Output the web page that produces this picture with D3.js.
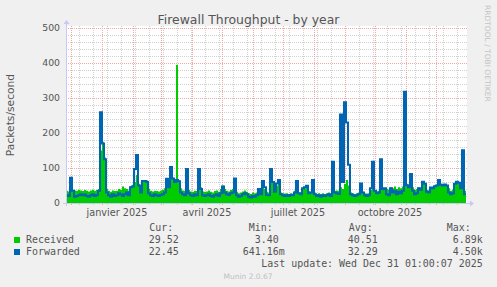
<!DOCTYPE html>
<html lang="fr">
<head>
<meta charset="UTF-8">
<script src="https://d3js.org/d3.v7.min.js"></script>
<style>
  html, body { margin: 0; padding: 0; background: #f0f0f0; overflow: hidden; }
  svg { display: block; }
  text { font-family: "DejaVu Sans", sans-serif; }
  .mono { font-family: "DejaVu Sans Mono", monospace; font-size: 9.95px; fill: #555; }
</style>
</head>
<body>
<svg id="chart" width="497" height="287"></svg>
<script>
// one sample every two days, starting 26 Nov 2024
const start = new Date(2024, 10, 26, 1);
const end = new Date(2025, 11, 31, 1);

const received = [
  35, 33, 40, 38, 36, 35, 38, 36, 34, 37,
  35, 33, 36, 38, 35, 37, 40, 150, 175, 130,
  40, 35, 32, 36, 34, 35, 40, 38, 47, 42,
  40, 36, 48, 52, 60, 80, 55, 42, 65, 66,
  65, 40, 35, 33, 35, 34, 33, 35, 38, 42,
  70, 55, 90, 72, 62, 394, 65, 42, 36, 35,
  95, 38, 33, 32, 35, 34, 95, 45, 33, 32,
  33, 36, 32, 30, 34, 36, 32, 40, 50, 40,
  35, 33, 37, 40, 60, 32, 28, 30, 33, 36,
  32, 28, 26, 30, 28, 30, 40, 32, 45, 40,
  32, 30, 100, 60, 35, 50, 60, 30, 28, 27,
  28, 26, 28, 27, 35, 45, 30, 30, 40, 42,
  45, 33, 32, 55, 30, 26, 28, 25, 28, 26,
  28, 30, 27, 60, 35, 36, 35, 45, 40, 55,
  66, 50, 30, 28, 26, 28, 30, 40, 32, 28,
  27, 28, 38, 50, 35, 33, 35, 45, 40, 42,
  40, 38, 45, 42, 47, 40, 45, 42, 47, 60,
  55, 50, 65, 45, 38, 40, 45, 42, 62, 58,
  38, 36, 46, 44, 50, 52, 68, 55, 50, 52,
  50, 42, 35, 38, 55, 62, 58, 45, 60, 35
];

const forwarded = [
  22, 20, 72, 35, 18, 20, 22, 25, 22, 24,
  20, 18, 22, 25, 20, 23, 35, 259, 170, 125,
  30, 22, 18, 25, 20, 22, 28, 24, 20, 25,
  30, 22, 45, 47, 97, 137, 50, 30, 63, 63,
  60, 28, 22, 20, 25, 22, 20, 23, 25, 30,
  69, 45, 103, 70, 60, 66, 62, 30, 25, 22,
  97, 28, 22, 20, 25, 22, 97, 40, 22, 20,
  22, 25, 20, 18, 22, 25, 20, 28, 47, 30,
  25, 23, 28, 30, 70, 22, 18, 20, 25, 28,
  25, 18, 16, 20, 18, 22, 40, 25, 63, 45,
  23, 22, 97, 60, 32, 56, 66, 25, 22, 20,
  22, 20, 23, 22, 30, 63, 28, 25, 42, 45,
  49, 28, 30, 66, 25, 20, 22, 18, 22, 20,
  22, 25, 20, 118, 30, 28, 26, 253, 60, 288,
  230, 109, 25, 22, 20, 22, 25, 56, 30, 22,
  20, 22, 42, 118, 35, 28, 30, 125, 40, 42,
  25, 22, 42, 30, 35, 25, 32, 28, 35, 318,
  51, 45, 83, 35, 25, 28, 42, 38, 61, 55,
  32, 30, 44, 42, 48, 50, 66, 52, 50, 53,
  50, 30, 25, 28, 55, 61, 58, 42, 151, 25
];

const yTicks = [0, 100, 200, 300, 400, 500];
const labelDates = [new Date(2025, 0, 16), new Date(2025, 3, 16), new Date(2025, 6, 16), new Date(2025, 9, 16)];
const labelTexts = ["janvier 2025", "avril 2025", "juillet 2025", "octobre 2025"];

const seriesNames = ["Received", "Forwarded"];
const seriesColors = ["#00cc00", "#0066b3"];
const curValues = ["29.52", "22.45"];
const minValues = ["3.40", "641.16m"];
const avgValues = ["40.51", "32.29"];
const maxValues = ["6.89k", "4.50k"];

const svg = d3.select("#chart");
const x = d3.scaleTime().domain([start, end]).range([66, 466]);
const y = d3.scaleLinear().domain([0, 500]).range([203, 28]);

// plot canvas
svg.append("rect").attr("x", 66).attr("y", 26).attr("width", 401).attr("height", 177).attr("fill", "#fff");

// minor grid
const minorY = d3.range(20, 501, 20).filter(v => v % 100 !== 0);
svg.append("g").selectAll("line").data(minorY).join("line")
  .attr("x1", 66).attr("x2", 467).attr("y1", d => y(d) + 0.5).attr("y2", d => y(d) + 0.5)
  .attr("stroke", "#d0d0d0").attr("stroke-dasharray", "1,1");
const minorX = d3.timeMonday.range(new Date(2024, 11, 9), end, 2);
svg.append("g").selectAll("line").data(minorX).join("line")
  .attr("x1", d => Math.round(x(d)) + 0.5).attr("x2", d => Math.round(x(d)) + 0.5)
  .attr("y1", 26).attr("y2", 205)
  .attr("stroke", "#d0d0d0").attr("stroke-dasharray", "1,1");

// major grid
svg.append("g").selectAll("line").data(yTicks.slice(1)).join("line")
  .attr("x1", 66).attr("x2", 467).attr("y1", d => y(d) + 0.5).attr("y2", d => y(d) + 0.5)
  .attr("stroke", "#f2a6a6").attr("stroke-dasharray", "1,1");
const months = d3.timeMonth.range(start, end);
svg.append("g").selectAll("line").data(months).join("line")
  .attr("x1", d => Math.round(x(d)) + 0.5).attr("x2", d => Math.round(x(d)) + 0.5)
  .attr("y1", 26).attr("y2", 206)
  .attr("stroke", "#f2a6a6").attr("stroke-dasharray", "1,1");

// data
const sample = i => d3.timeDay.offset(start, 2 * i);
const recPts = received.map((v, i) => [sample(i), v]).concat([[end, received[received.length - 1]]]);
const fwdPts = forwarded.map((v, i) => [sample(i), v]).concat([[end, forwarded[forwarded.length - 1]]]);

svg.append("path").datum(recPts)
  .attr("fill", seriesColors[0])
  .attr("d", d3.area().curve(d3.curveStepAfter).x(d => x(d[0])).y0(y(0)).y1(d => y(d[1])));
svg.append("path").datum(fwdPts)
  .attr("fill", "none").attr("stroke", seriesColors[1]).attr("stroke-width", 2)
  .attr("d", d3.line().curve(d3.curveStepAfter).x(d => x(d[0])).y(d => y(d[1])));

// axes
const axisColor = "#c8c8f8";
svg.append("line").attr("x1", 63).attr("x2", 470).attr("y1", 203.5).attr("y2", 203.5).attr("stroke", axisColor);
svg.append("path").attr("d", "M470,200.5L474,203.5L470,206.5Z").attr("fill", axisColor);
svg.append("line").attr("x1", 66.5).attr("x2", 66.5).attr("y1", 206).attr("y2", 24).attr("stroke", axisColor);
svg.append("path").attr("d", "M63.5,24L66.5,20L69.5,24Z").attr("fill", axisColor);

svg.append("g").selectAll("text").data(yTicks).join("text")
  .attr("x", 60).attr("y", d => y(d) + 3.3)
  .attr("text-anchor", "end").attr("font-size", 9.3).attr("fill", "#555")
  .text(d => d);

svg.append("g").selectAll("text").data(labelDates).join("text")
  .attr("x", d => x(d)).attr("y", 216)
  .attr("text-anchor", "middle").attr("font-size", 9.7).attr("fill", "#555")
  .text((d, i) => labelTexts[i]);

// titles
svg.append("text").attr("x", 248.5).attr("y", 23.5).attr("text-anchor", "middle")
  .attr("font-size", 12.4).attr("fill", "#555").text("Firewall Throughput - by year");
svg.append("text").attr("transform", "translate(14,115) rotate(-90)").attr("text-anchor", "middle")
  .attr("font-size", 10.7).attr("fill", "#555").text("Packets/second");
svg.append("text").attr("transform", "translate(485,5) rotate(90)")
  .attr("font-size", 7.5).attr("fill", "#c4c4c4").text("RRDTOOL / TOBI OETIKER");

// legend
const heads = [["Cur:", 149.3], ["Min:", 248.7], ["Avg:", 348.7], ["Max:", 446.7]];
svg.append("g").selectAll("text").data(heads).join("text")
  .attr("class", "mono").attr("x", d => d[1]).attr("y", 231).text(d => d[0]);

const cols = [[curValues, 184.7], [minValues, 284.7], [avgValues, 383.7], [maxValues, 482.7]];
seriesNames.forEach((name, i) => {
  const yy = 243 + 12 * i;
  svg.append("rect").attr("x", 14).attr("y", yy - 6).attr("width", 6).attr("height", 6).attr("fill", seriesColors[i]);
  svg.append("text").attr("class", "mono").attr("x", 26).attr("y", yy).text(name);
  cols.forEach(([vals, colEnd]) => {
    const s = vals[i];
    const hasSuffix = /[a-z]$/i.test(s);
    svg.append("text").attr("class", "mono").attr("text-anchor", "end")
      .attr("x", hasSuffix ? colEnd : colEnd - 6).attr("y", yy).text(s);
  });
});
svg.append("text").attr("class", "mono").attr("text-anchor", "end").attr("x", 482.7).attr("y", 267)
  .text("Last update: Wed Dec 31 01:00:07 2025");
svg.append("text").attr("x", 248).attr("y", 279).attr("text-anchor", "middle")
  .attr("font-size", 7.5).attr("fill", "#c0c0c0").text("Munin 2.0.67");
</script>
</body>
</html>
